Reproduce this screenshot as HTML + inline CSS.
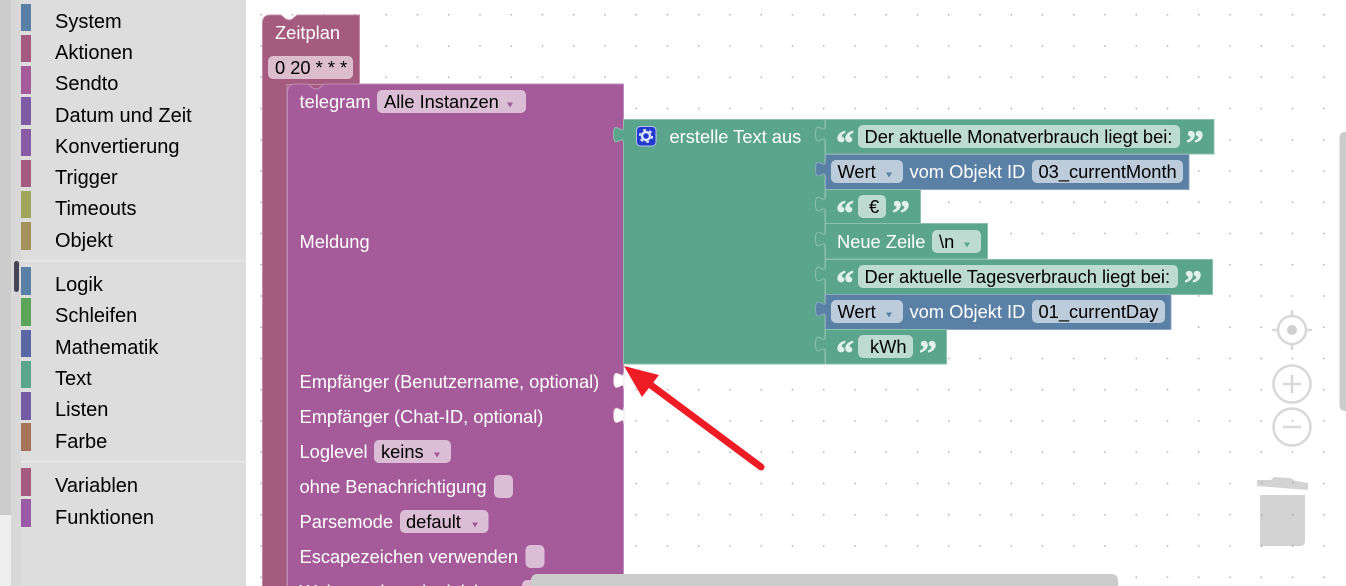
<!DOCTYPE html>
<html><head><meta charset="utf-8"><style>
html,body{margin:0;padding:0;width:1346px;height:586px;overflow:hidden;background:#fff}
svg{display:block;font-family:"Liberation Sans",sans-serif;font-size:18.3px}
.w{fill:#fff}.b{fill:#000}.s{font-size:20px;fill:#000}
.q{font-family:"Liberation Serif",serif;font-weight:bold;font-size:36px;fill:#e2f0eb;stroke:#e2f0eb;stroke-width:.7}
.gr{stroke:#8cc0ae;fill:#5ba58c;stroke-width:1}
.bl{stroke:#8ca6c0;fill:#5b80a5;stroke-width:1}
.fg{fill:#bddbd1}.fb{fill:#bdccdb}.fp{fill:#dbbdd6}
</style></head><body>
<svg width="1346" height="586" viewBox="0 0 1346 586" xmlns="http://www.w3.org/2000/svg">
<defs><pattern id="d" x="259.5" y="13" width="31.25" height="31.25" patternUnits="userSpaceOnUse"><rect x="1" y="1" width="1.5" height="1.5" fill="#b0b0b0"/></pattern></defs>
<rect x="246" y="0" width="1100" height="586" fill="url(#d)"/>

<!-- controls -->
<g fill="none" stroke="#d8d8d8" stroke-width="2.5">
<circle cx="1292" cy="330" r="14"/><path d="M1292 310v6M1292 344v6M1272 330h6M1306 330h6"/>
<circle cx="1292" cy="384" r="18.5"/><path d="M1283 384h18M1292 375v18"/>
<circle cx="1292" cy="427" r="18.5"/><path d="M1283 427h18"/>
</g>
<circle cx="1292" cy="330" r="5" fill="#d0d0d0"/>
<path d="M1257 480L1271 480 1274 477 1290 478 1296 481 1308 483 1308 490 1257 486Z" fill="#d3d3d3"/>
<path d="M1260 495H1305V541Q1305 546 1300 546H1260Z" fill="#d3d3d3"/>
<g fill="#a8a8a8"><rect x="1261" y="482" width="1.5" height="1.5"/><rect x="1292" y="482" width="1.5" height="1.5"/><rect x="1261" y="514" width="1.5" height="1.5"/><rect x="1292" y="514" width="1.5" height="1.5"/><rect x="1261" y="545" width="1.5" height="1.5"/><rect x="1292" y="545" width="1.5" height="1.5"/></g>

<!-- Zeitplan -->
<rect x="287" y="84" width="60" height="8" fill="#a55b80"/>
<path d="M262.500 590V23Q262.500 15 270.500 15H280c3,0 4,5 9,5s6,-5 9,-5h61.500V84.500H287V590Z" fill="#a55b80" stroke="#c08ca6"/>
<text x="275" y="39" class="w">Zeitplan</text>
<rect x="268" y="56" width="85" height="23" rx="5" fill="#dbbdcc"/>
<text x="275" y="74" class="b">0 20 * * *</text>

<!-- telegram -->
<path d="M287.500 590V92Q287.500 84 295.500 84H307c3,0 4,5 9,5s6,-5 9,-5H623.500V372c0,10 -10,-8 -10,8s10,-2.500 10,8V407c0,10 -10,-8 -10,8s10,-2.500 10,8V590Z" fill="#a55b99" stroke="#c08cb8"/>
<path d="M624 372.500c0,10 -10,-8 -10,8s10,-2.500 10,8ZM624 407.500c0,10 -10,-8 -10,8s10,-2.500 10,8Z" fill="#fff" stroke="#f0e4ee"/>
<text x="299.500" y="108" class="w">telegram</text>
<rect x="377" y="90" width="149" height="23" rx="5" class="fp"/>
<text x="384" y="108" class="b">Alle Instanzen</text>
<path d="M507 102.500h6l-3 5z" fill="#a55b99"/>
<text x="299.500" y="248" class="w">Meldung</text>
<text x="299.500" y="388" class="w">Empfänger (Benutzername, optional)</text>
<text x="299.500" y="423" class="w">Empfänger (Chat-ID, optional)</text>
<text x="299.500" y="458" class="w">Loglevel</text>
<rect x="374" y="440" width="77" height="23" rx="5" class="fp"/>
<text x="381" y="458" class="b">keins</text>
<path d="M434 452.500h6l-3 5z" fill="#a55b99"/>
<text x="299.500" y="493" class="w">ohne Benachrichtigung</text>
<rect x="494" y="475" width="19" height="23" rx="5" class="fp"/>
<text x="299.500" y="528" class="w">Parsemode</text>
<rect x="400" y="510" width="88.500" height="23" rx="5" class="fp"/>
<text x="406" y="528" class="b">default</text>
<path d="M472 522.500h6l-3 5z" fill="#a55b99"/>
<text x="299.500" y="563" class="w">Escapezeichen verwenden</text>
<rect x="525.500" y="545" width="19" height="23" rx="5" class="fp"/>
<text x="299.500" y="598" class="w">Webvorschau deaktivieren</text>
<rect x="522" y="580" width="19" height="23" rx="5" class="fp"/>

<!-- text join -->
<path d="M623.500 119.500H825V364H623.500V143c0,-10 -10,8 -10,-8.500s10,2.500 10,-7.500Z" class="gr"/>
<rect x="636.500" y="126.500" width="19.500" height="19.500" rx="4" fill="#2239cf" stroke="#b5c4e8"/>
<circle cx="646" cy="136" r="4" fill="none" stroke="#dfe6f7" stroke-width="2.400"/>
<circle cx="646" cy="136" r="6.200" fill="none" stroke="#dfe6f7" stroke-width="1.800" stroke-dasharray="3 3.500"/>
<text x="669.500" y="143" class="w">erstelle Text aus</text>

<!-- rows -->
<path d="M825.500 119.500H1214V154H825.500V142c0,-10 -10,8 -10,-8s10,2.500 10,-8Z" class="gr"/>
<path d="M825.500 154.500H1189V189.500H825.500V177c0,-10 -10,8 -10,-8s10,2.500 10,-8Z" class="bl"/>
<path d="M825.500 189.500H920.500V223.500H825.500V212c0,-10 -10,8 -10,-8s10,2.500 10,-8Z" class="gr"/>
<path d="M825.500 223.500H987.500V259H825.500V247c0,-10 -10,8 -10,-8s10,2.500 10,-8Z" class="gr"/>
<path d="M825.500 259.500H1212.500V294.500H825.500V282c0,-10 -10,8 -10,-8s10,2.500 10,-8Z" class="gr"/>
<path d="M825.500 294.500H1171V329.500H825.500V317c0,-10 -10,8 -10,-8s10,2.500 10,-8Z" class="bl"/>
<path d="M825.500 329.500H946.500V364H825.500V352c0,-10 -10,8 -10,-8s10,2.500 10,-8Z" class="gr"/>

<text x="836" y="155" class="q">“</text><rect x="858" y="125" width="322" height="23" rx="5" class="fg"/>
<text x="864.500" y="143" class="b">Der aktuelle Monatverbrauch liegt bei:</text><text x="1186" y="155" class="q">”</text>

<rect x="831" y="160" width="72" height="23" rx="5" class="fb"/><text x="837.500" y="178" class="b">Wert</text><path d="M886 172.500h6l-3 5z" fill="#5b80a5"/>
<text x="909.500" y="178" class="w">vom Objekt ID</text>
<rect x="1032" y="160" width="151" height="23" rx="5" class="fb"/><text x="1038.500" y="178" class="b">03_currentMonth</text>

<text x="836" y="225" class="q">“</text><rect x="858" y="195" width="28" height="23" rx="5" class="fg"/>
<text x="869" y="213" class="b">€</text><text x="892" y="225" class="q">”</text>

<text x="837" y="248" class="w">Neue Zeile</text>
<rect x="932" y="230" width="49" height="23" rx="5" class="fg"/><text x="939" y="248" class="b">\n</text><path d="M964 242.500h6l-3 5z" fill="#5ba58c"/>

<text x="836" y="295" class="q">“</text><rect x="858" y="265" width="320" height="23" rx="5" class="fg"/>
<text x="864.500" y="283" class="b">Der aktuelle Tagesverbrauch liegt bei:</text><text x="1184" y="295" class="q">”</text>

<rect x="831" y="300" width="72" height="23" rx="5" class="fb"/><text x="837.500" y="318" class="b">Wert</text><path d="M886 312.500h6l-3 5z" fill="#5b80a5"/>
<text x="909.500" y="318" class="w">vom Objekt ID</text>
<rect x="1032" y="300" width="133" height="23" rx="5" class="fb"/><text x="1038.500" y="318" class="b">01_currentDay</text>

<text x="836" y="365" class="q">“</text><rect x="858" y="335" width="55" height="23" rx="5" class="fg"/>
<text x="870" y="353" class="b">kWh</text><text x="919" y="365" class="q">”</text>

<!-- scrollbars -->
<rect x="531" y="574" width="587" height="20" rx="6" fill="#cccccc"/>
<path d="M1346 132H1345Q1339.500 132 1339.500 138V405Q1339.500 411 1345 411H1346Z" fill="#cccccc"/>

<!-- arrow -->
<path d="M761 467L640 377" stroke="#ee1c25" stroke-width="7" stroke-linecap="round"/>
<path d="M624 366L659 375 642 397Z" fill="#ee1c25"/>

<!-- sidebar -->
<rect x="0" y="0" width="11" height="515" fill="#cccccc"/>
<rect x="0" y="515" width="11" height="71" fill="#eeeeee"/>
<rect x="11" y="0" width="235" height="586" fill="#dddddd"/>
<rect x="11" y="0" width="10" height="586" fill="#d8d8d8"/>
<rect x="21" y="260" width="225" height="1.500" fill="#e8e8e8"/>
<rect x="21" y="461" width="225" height="1.500" fill="#e8e8e8"/>
<rect x="14" y="261" width="5" height="31" rx="2.500" fill="#444455"/>
<rect x="21" y="4" width="10" height="27" fill="#5b80a5"/><text x="55" y="28" class="s">System</text>
<rect x="21" y="35" width="10" height="27" fill="#a55b80"/><text x="55" y="59" class="s">Aktionen</text>
<rect x="21" y="66" width="10" height="28" fill="#a55b99"/><text x="55" y="90" class="s">Sendto</text>
<rect x="21" y="97" width="10" height="28" fill="#805ba5"/><text x="55" y="122" class="s">Datum und Zeit</text>
<rect x="21" y="129" width="10" height="27" fill="#8a5ba5"/><text x="55" y="153" class="s">Konvertierung</text>
<rect x="21" y="160" width="10" height="27" fill="#a55b80"/><text x="55" y="184" class="s">Trigger</text>
<rect x="21" y="191" width="10" height="27" fill="#9fa55b"/><text x="55" y="215" class="s">Timeouts</text>
<rect x="21" y="222" width="10" height="28" fill="#a5915b"/><text x="55" y="247" class="s">Objekt</text>
<rect x="21" y="267" width="10" height="28" fill="#5b80a5"/><text x="55" y="291" class="s">Logik</text>
<rect x="21" y="298" width="10" height="28" fill="#5ba55b"/><text x="55" y="322" class="s">Schleifen</text>
<rect x="21" y="330" width="10" height="27" fill="#5b67a5"/><text x="55" y="354" class="s">Mathematik</text>
<rect x="21" y="361" width="10" height="27" fill="#5ba58c"/><text x="55" y="385" class="s">Text</text>
<rect x="21" y="392" width="10" height="28" fill="#745ba5"/><text x="55" y="416" class="s">Listen</text>
<rect x="21" y="423" width="10" height="28" fill="#a5745b"/><text x="55" y="448" class="s">Farbe</text>
<rect x="21" y="468" width="10" height="28" fill="#a55b80"/><text x="55" y="492" class="s">Variablen</text>
<rect x="21" y="499" width="10" height="28" fill="#995ba5"/><text x="55" y="524" class="s">Funktionen</text>
</svg>
</body></html>
